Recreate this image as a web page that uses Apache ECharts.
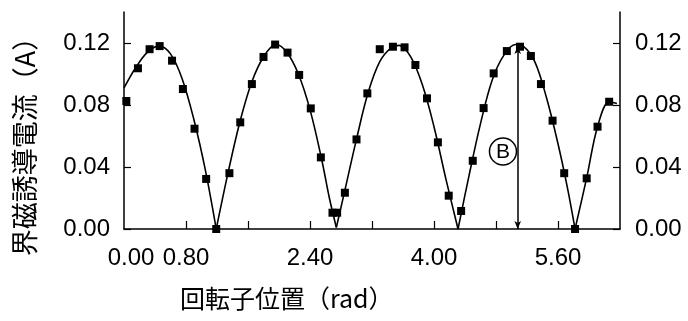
<!DOCTYPE html>
<html>
<head>
<meta charset="utf-8">
<script src="https://cdn.jsdelivr.net/npm/echarts@6/dist/echarts.min.js"></script>
<style>html,body{margin:0;padding:0;background:#fff;}#c{width:688px;height:321px;}</style>
</head>
<body>
<div id="c"></div>
<script>
// Measured points (rotor position rad, field induced current A)
const markerX = [0.03,0.18,0.33,0.46,0.62,0.76,0.91,1.06,1.19,1.36,1.50,1.65,1.80,1.95,2.11,2.26,2.41,2.54,2.69,2.75,2.85,3.00,3.14,3.30,3.47,3.62,3.76,3.91,4.05,4.19,4.35,4.50,4.64,4.77,4.94,5.11,5.25,5.38,5.53,5.68,5.82,5.97,6.11,6.26];
const markerY = [0.0826,0.1037,0.116,0.118,0.1086,0.0903,0.0647,0.0323,0.0,0.036,0.0688,0.0935,0.111,0.119,0.1138,0.0994,0.0778,0.0462,0.0105,0.0105,0.0234,0.0578,0.0875,0.116,0.1176,0.1172,0.1058,0.0843,0.0559,0.0215,0.0116,0.044,0.078,0.1004,0.1148,0.1176,0.1116,0.0935,0.0699,0.036,0.0,0.0327,0.066,0.0821];
// Fitted curve, one arch per array
const arch1 = [[0,0.091],[0.15,0.104],[0.3,0.114],[0.45,0.118],[0.6,0.113],[0.75,0.097],[0.9,0.071],[1.05,0.038],[1.19,0]];
const arch2 = [[1.19,0],[1.35,0.038],[1.5,0.07],[1.65,0.095],[1.8,0.111],[1.96,0.119],[2.1,0.114],[2.25,0.1],[2.4,0.077],[2.55,0.045],[2.65,0.02],[2.74,0.001]];
const arch3 = [[2.74,0.001],[2.85,0.025],[3.0,0.058],[3.15,0.088],[3.3,0.108],[3.45,0.117],[3.55,0.1185],[3.7,0.111],[3.85,0.093],[4.0,0.066],[4.15,0.033],[4.31,0]];
const arch4 = [[4.31,0],[4.45,0.034],[4.6,0.068],[4.75,0.096],[4.9,0.112],[5.05,0.119],[5.15,0.118],[5.3,0.108],[5.45,0.085],[5.6,0.055],[5.72,0.027],[5.82,0]];
const arch5 = [[5.82,0],[5.97,0.033],[6.11,0.066],[6.26,0.082],[6.36,0.081]];
// Axis ticks / labels
const xTicks = [0.8,1.6,2.4,3.2,4.0,4.8,5.6];
const xLabels = [0,0.8,2.4,4.0,5.6];
const yTicks = [0,0.04,0.08,0.12];
// Annotation B
const bLineX = 5.08, bLineTop = 0.118;
const bCircle = [4.89, 0.05];

const numFont = "'Liberation Sans',Arial,sans-serif";
const numSize = 24;
const cjkFont = "'Noto Sans CJK JP',sans-serif";

const chart = echarts.init(document.getElementById('c'), null, {renderer:'canvas'});
const curveSeries = [arch1,arch2,arch3,arch4,arch5].map(a => ({
  type:'line', data:a, smooth:0.35, showSymbol:false, symbol:'none',
  lineStyle:{color:'#000', width:1.6}, z:2, silent:true
}));
const yAxisBase = {
  type:'value', min:0, max:0.14,
  axisLine:{show:true, lineStyle:{color:'#000', width:1.5}},
  axisTick:{show:true, inside:true, length:7, customValues:yTicks, lineStyle:{color:'#000', width:1.2}},
  axisLabel:{customValues:yTicks, formatter:v=>v.toFixed(2), color:'#000', fontFamily:numFont, fontSize:numSize, margin:14},
  splitLine:{show:false}
};
chart.setOption({
  animation:false,
  grid:{left:124, right:68, top:12, bottom:92},
  xAxis:{
    type:'value', min:0, max:6.4,
    axisLine:{show:true, lineStyle:{color:'#000', width:1.5}},
    axisTick:{show:true, inside:true, length:8, customValues:xTicks, lineStyle:{color:'#000', width:1.2}},
    axisLabel:{customValues:xLabels, color:'#000', fontFamily:numFont, fontSize:numSize, margin:17,
      formatter:v=> v===0 ? '{z|0.00}' : v.toFixed(2),
      rich:{z:{fontFamily:numFont, fontSize:numSize, color:'#000', padding:[0,0,0,14]}}},
    splitLine:{show:false}
  },
  yAxis:[Object.assign({position:'left'}, yAxisBase), Object.assign({position:'right'}, yAxisBase, {axisLabel:Object.assign({}, yAxisBase.axisLabel, {margin:15})})],
  graphic:[
    {type:'text', left:180, top:286, style:{text:'回転子位置（rad）', font:"25px "+cjkFont, fill:'#000'}},
    {type:'text', x:25, y:140, rotation:Math.PI/2, style:{text:'界磁誘導電流（A）', font:"27px "+cjkFont, fill:'#000', align:'center', verticalAlign:'middle'}}
  ],
  series: curveSeries.concat([{
    type:'line', data:markerX.map((x,i)=>[x, markerY[i]]),
    lineStyle:{opacity:0}, symbol:'rect', symbolSize:8, showSymbol:true,
    itemStyle:{color:'#000'}, z:3, clip:false,
    markLine:{silent:true, symbol:['arrow','arrow'], symbolSize:[5,8], animation:false,
      lineStyle:{color:'#000', width:1.5, type:'solid'}, label:{show:false},
      data:[[{coord:[bLineX,0]},{coord:[bLineX,bLineTop]}]]},
    markPoint:{silent:true, symbol:'circle', symbolSize:27,
      itemStyle:{color:'#fff', borderColor:'#000', borderWidth:1.5},
      label:{show:true, formatter:'B', color:'#000', fontFamily:numFont, fontSize:21, offset:[0,1]},
      data:[{coord:bCircle}]}
  }])
});
</script>
</body>
</html>
